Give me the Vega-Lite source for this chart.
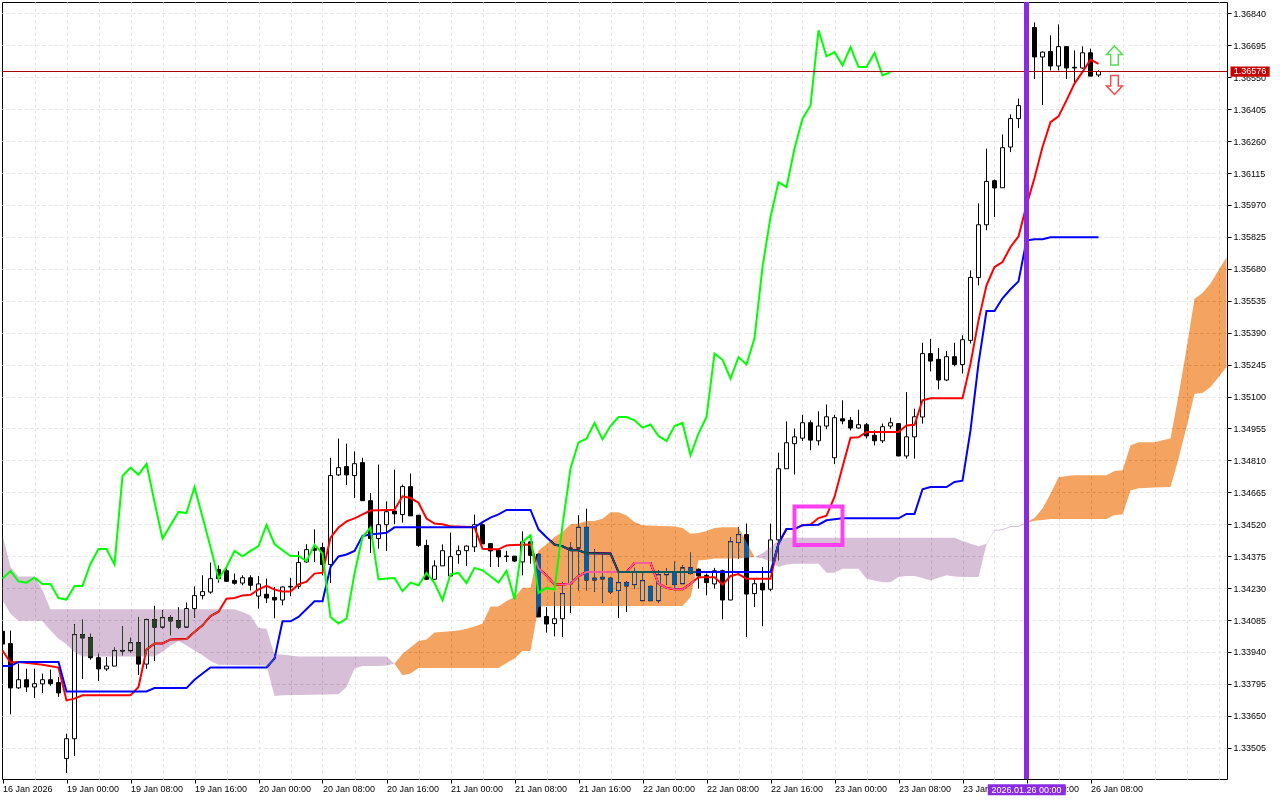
{"$schema":"https://vega.github.io/schema/vega-lite/v6.json","width":1225,"height":777,"autosize":"none","padding":{"left":2,"top":2,"right":53,"bottom":21},"background":"white","config":{"view":{"stroke":"black","strokeWidth":1},"font":"Liberation Sans"},
"datasets":{
"candles":[
{"i":0,"o":1.34034,"h":1.34038,"l":1.33976,"c":1.33976},{"i":1,"o":1.33978,"h":1.34037,"l":1.33657,"c":1.33777},{"i":2,"o":1.33777,"h":1.33887,"l":1.33772,"c":1.33814},{"i":3,"o":1.33814,"h":1.33864,"l":1.33758,"c":1.33781},{"i":4,"o":1.33781,"h":1.33864,"l":1.33731,"c":1.33796},{"i":5,"o":1.33795,"h":1.33842,"l":1.33754,"c":1.33814},{"i":6,"o":1.33814,"h":1.3386,"l":1.33787,"c":1.33796},{"i":7,"o":1.33801,"h":1.33826,"l":1.33736,"c":1.33754},{"i":8,"o":1.33456,"h":1.33569,"l":1.3339,"c":1.33546},{"i":9,"o":1.33546,"h":1.34066,"l":1.33468,"c":1.34019},
{"i":10,"o":1.34019,"h":1.34087,"l":1.33817,"c":1.34004},{"i":11,"o":1.34005,"h":1.34023,"l":1.33905,"c":1.33914},{"i":12,"o":1.33914,"h":1.33932,"l":1.33808,"c":1.33863},{"i":13,"o":1.33863,"h":1.33917,"l":1.33854,"c":1.33876},{"i":14,"o":1.33876,"h":1.3396,"l":1.33876,"c":1.33946},{"i":15,"o":1.33944,"h":1.34056,"l":1.33925,"c":1.33947},{"i":16,"o":1.33946,"h":1.34005,"l":1.33938,"c":1.33982},{"i":17,"o":1.33982,"h":1.34099,"l":1.33835,"c":1.33885},{"i":18,"o":1.33885,"h":1.34091,"l":1.33864,"c":1.34087},{"i":19,"o":1.34087,"h":1.3415,"l":1.33899,"c":1.34053},
{"i":20,"o":1.34053,"h":1.34129,"l":1.34047,"c":1.34096},{"i":21,"o":1.34096,"h":1.34106,"l":1.34016,"c":1.34081},{"i":22,"o":1.34082,"h":1.34143,"l":1.34044,"c":1.34053},{"i":23,"o":1.34053,"h":1.34165,"l":1.34053,"c":1.34137},{"i":24,"o":1.34137,"h":1.34238,"l":1.34096,"c":1.34196},{"i":25,"o":1.34196,"h":1.34288,"l":1.34179,"c":1.34214},{"i":26,"o":1.34212,"h":1.34346,"l":1.34205,"c":1.34273},{"i":27,"o":1.34315,"h":1.34333,"l":1.34255,"c":1.34273},{"i":28,"o":1.34309,"h":1.34326,"l":1.34258,"c":1.34261},{"i":29,"o":1.34265,"h":1.34296,"l":1.34246,"c":1.34252},
{"i":30,"o":1.34253,"h":1.34288,"l":1.34243,"c":1.34277},{"i":31,"o":1.34277,"h":1.34288,"l":1.3422,"c":1.34243},{"i":32,"o":1.34194,"h":1.34285,"l":1.34137,"c":1.34249},{"i":33,"o":1.34202,"h":1.34273,"l":1.34162,"c":1.34185},{"i":34,"o":1.34188,"h":1.34235,"l":1.34093,"c":1.34176},{"i":35,"o":1.34176,"h":1.34238,"l":1.34152,"c":1.34235},{"i":36,"o":1.34235,"h":1.34277,"l":1.34193,"c":1.34238},{"i":37,"o":1.34238,"h":1.34397,"l":1.34226,"c":1.34346},{"i":38,"o":1.34349,"h":1.34429,"l":1.34344,"c":1.34405},{"i":39,"o":1.34411,"h":1.34497,"l":1.34349,"c":1.34402},
{"i":40,"o":1.34414,"h":1.34436,"l":1.34288,"c":1.34337},{"i":41,"o":1.34337,"h":1.34822,"l":1.34253,"c":1.34741},{"i":42,"o":1.34744,"h":1.34909,"l":1.34739,"c":1.34777},{"i":43,"o":1.34782,"h":1.34886,"l":1.34698,"c":1.34744},{"i":44,"o":1.34741,"h":1.34851,"l":1.34639,"c":1.34795},{"i":45,"o":1.348,"h":1.34822,"l":1.34627,"c":1.34627},{"i":46,"o":1.34627,"h":1.34662,"l":1.34389,"c":1.34455},{"i":47,"o":1.34455,"h":1.34791,"l":1.34409,"c":1.34518},{"i":48,"o":1.34518,"h":1.34624,"l":1.34399,"c":1.34577},{"i":49,"o":1.3458,"h":1.34768,"l":1.3452,"c":1.34567},
{"i":50,"o":1.34564,"h":1.347,"l":1.34527,"c":1.34691},{"i":51,"o":1.34691,"h":1.3475,"l":1.34558,"c":1.34558},{"i":52,"o":1.34561,"h":1.34561,"l":1.34417,"c":1.34424},{"i":53,"o":1.34424,"h":1.3445,"l":1.34266,"c":1.3427},{"i":54,"o":1.3427,"h":1.34356,"l":1.3427,"c":1.34331},{"i":55,"o":1.34331,"h":1.34428,"l":1.34331,"c":1.344},{"i":56,"o":1.34285,"h":1.34482,"l":1.34281,"c":1.34373},{"i":57,"o":1.34382,"h":1.34424,"l":1.34341,"c":1.344},{"i":58,"o":1.344,"h":1.34424,"l":1.34331,"c":1.34421},{"i":59,"o":1.34417,"h":1.34564,"l":1.34394,"c":1.34518},
{"i":60,"o":1.34518,"h":1.34523,"l":1.34431,"c":1.34431},{"i":61,"o":1.34432,"h":1.34432,"l":1.34326,"c":1.34399},{"i":62,"o":1.34402,"h":1.34402,"l":1.34326,"c":1.34372},{"i":63,"o":1.34376,"h":1.34399,"l":1.34349,"c":1.34373},{"i":64,"o":1.34375,"h":1.34376,"l":1.34349,"c":1.34353},{"i":65,"o":1.34349,"h":1.34488,"l":1.34288,"c":1.3444},{"i":66,"o":1.3444,"h":1.3444,"l":1.34341,"c":1.34379},{"i":67,"o":1.34384,"h":1.34384,"l":1.34099,"c":1.34099},{"i":68,"o":1.34101,"h":1.34144,"l":1.34028,"c":1.34067},{"i":69,"o":1.34069,"h":1.34213,"l":1.34011,"c":1.34091},
{"i":70,"o":1.34091,"h":1.34258,"l":1.34008,"c":1.34205},{"i":71,"o":1.3425,"h":1.34437,"l":1.34117,"c":1.34412},{"i":72,"o":1.34412,"h":1.34561,"l":1.3422,"c":1.34506},{"i":73,"o":1.34506,"h":1.34591,"l":1.3422,"c":1.34267},{"i":74,"o":1.34275,"h":1.34406,"l":1.34213,"c":1.34267},{"i":75,"o":1.34279,"h":1.34387,"l":1.34163,"c":1.34272},{"i":76,"o":1.34275,"h":1.34281,"l":1.34205,"c":1.34213},{"i":77,"o":1.34219,"h":1.34303,"l":1.34094,"c":1.34255},{"i":78,"o":1.34255,"h":1.34261,"l":1.34122,"c":1.3424},{"i":79,"o":1.34246,"h":1.34322,"l":1.34226,"c":1.34303},
{"i":80,"o":1.34173,"h":1.34303,"l":1.34173,"c":1.34264},{"i":81,"o":1.34238,"h":1.3424,"l":1.34173,"c":1.34173},{"i":82,"o":1.34173,"h":1.34311,"l":1.34163,"c":1.34291},{"i":83,"o":1.34291,"h":1.34319,"l":1.34246,"c":1.34305},{"i":84,"o":1.34303,"h":1.3435,"l":1.34228,"c":1.34247},{"i":85,"o":1.3425,"h":1.34334,"l":1.3425,"c":1.34322},{"i":86,"o":1.34322,"h":1.34391,"l":1.34293,"c":1.34297},{"i":87,"o":1.34316,"h":1.34319,"l":1.34228,"c":1.34285},{"i":88,"o":1.34288,"h":1.34296,"l":1.34197,"c":1.34255},{"i":89,"o":1.34249,"h":1.34322,"l":1.34228,"c":1.34309},
{"i":90,"o":1.34309,"h":1.34314,"l":1.34088,"c":1.34176},{"i":91,"o":1.34176,"h":1.34462,"l":1.34175,"c":1.34441},{"i":92,"o":1.34437,"h":1.34508,"l":1.34364,"c":1.34473},{"i":93,"o":1.34473,"h":1.34523,"l":1.34008,"c":1.34203},{"i":94,"o":1.34205,"h":1.34273,"l":1.34144,"c":1.3425},{"i":95,"o":1.34252,"h":1.34326,"l":1.34057,"c":1.34222},{"i":96,"o":1.34225,"h":1.34523,"l":1.34216,"c":1.34449},{"i":97,"o":1.34449,"h":1.34845,"l":1.34356,"c":1.34772},{"i":98,"o":1.34772,"h":1.34987,"l":1.34772,"c":1.3489},{"i":99,"o":1.34886,"h":1.34954,"l":1.34746,"c":1.34917},
{"i":100,"o":1.34911,"h":1.35017,"l":1.34898,"c":1.34981},{"i":101,"o":1.34981,"h":1.34992,"l":1.34856,"c":1.34902},{"i":102,"o":1.34899,"h":1.35033,"l":1.34878,"c":1.34966},{"i":103,"o":1.34966,"h":1.35064,"l":1.34952,"c":1.35008},{"i":104,"o":1.34822,"h":1.35017,"l":1.34793,"c":1.35004},{"i":105,"o":1.34999,"h":1.35083,"l":1.34974,"c":1.34989},{"i":106,"o":1.34992,"h":1.35007,"l":1.34946,"c":1.34957},{"i":107,"o":1.34957,"h":1.3504,"l":1.34954,"c":1.34972},{"i":108,"o":1.34972,"h":1.3498,"l":1.34909,"c":1.34921},{"i":109,"o":1.34924,"h":1.34946,"l":1.34878,"c":1.34899},
{"i":110,"o":1.34899,"h":1.34977,"l":1.34889,"c":1.34963},{"i":111,"o":1.34966,"h":1.35004,"l":1.34954,"c":1.34981},{"i":112,"o":1.34977,"h":1.34977,"l":1.34829,"c":1.3483},{"i":113,"o":1.3483,"h":1.3512,"l":1.34818,"c":1.34917},{"i":114,"o":1.34917,"h":1.35045,"l":1.34818,"c":1.35008},{"i":115,"o":1.35007,"h":1.35344,"l":1.34977,"c":1.35295},{"i":116,"o":1.35295,"h":1.35362,"l":1.35214,"c":1.35261},{"i":117,"o":1.35269,"h":1.3532,"l":1.35133,"c":1.35175},{"i":118,"o":1.35175,"h":1.35307,"l":1.3517,"c":1.35281},{"i":119,"o":1.35281,"h":1.35344,"l":1.35237,"c":1.35245},
{"i":120,"o":1.35245,"h":1.35378,"l":1.35204,"c":1.35358},{"i":121,"o":1.35355,"h":1.35673,"l":1.35341,"c":1.35641},{"i":122,"o":1.3564,"h":1.35977,"l":1.35605,"c":1.3588},{"i":123,"o":1.3588,"h":1.36226,"l":1.35855,"c":1.36077},{"i":124,"o":1.3608,"h":1.36085,"l":1.35915,"c":1.36047},{"i":125,"o":1.36048,"h":1.3629,"l":1.36048,"c":1.3623},{"i":126,"o":1.36233,"h":1.36381,"l":1.3621,"c":1.36362},{"i":127,"o":1.36362,"h":1.36453,"l":1.36319,"c":1.36421},{"i":128,"o":1.36421,"h":1.3679,"l":1.364,"c":1.36776},{"i":129,"o":1.36776,"h":1.36799,"l":1.36542,"c":1.36642},
{"i":130,"o":1.36642,"h":1.36667,"l":1.36424,"c":1.36664},{"i":131,"o":1.36667,"h":1.3674,"l":1.36581,"c":1.36601},{"i":132,"o":1.36601,"h":1.3679,"l":1.36581,"c":1.36689},{"i":133,"o":1.36689,"h":1.3669,"l":1.36542,"c":1.36592},{"i":134,"o":1.36595,"h":1.36672,"l":1.36521,"c":1.36592},{"i":135,"o":1.36592,"h":1.3669,"l":1.36589,"c":1.36661},{"i":136,"o":1.36661,"h":1.3668,"l":1.36555,"c":1.36555},{"i":137,"o":1.3656,"h":1.36581,"l":1.36551,"c":1.36576}],
"tenkan":[{"i":0,"p":1.33947},{"i":1,"p":1.33892},{"i":2,"p":1.33895},{"i":4,"p":1.33887},{"i":5,"p":1.33882},{"i":7,"p":1.33869},{"i":8,"p":1.3372},{"i":9,"p":1.33728},{"i":10,"p":1.33743},{"i":16,"p":1.33743},{"i":17,"p":1.33781},{"i":18,"p":1.33951},{"i":19,"p":1.33978},{"i":20,"p":1.33979},{"i":21,"p":1.33997},{"i":23,"p":1.33999},{"i":24,"p":1.34031},{"i":25,"p":1.34061},{"i":26,"p":1.34103},{"i":27,"p":1.34123},{"i":28,"p":1.34182},{"i":29,"p":1.34185},{"i":30,"p":1.34197},{"i":31,"p":1.342},{"i":32,"p":1.34224},{"i":33,"p":1.3424},{"i":34,"p":1.34223},{"i":35,"p":1.34215},{"i":36,"p":1.34215},{"i":37,"p":1.34247},{"i":38,"p":1.34259},{"i":39,"p":1.34296},{"i":40,"p":1.343},{"i":41,"p":1.34459},{"i":42,"p":1.34505},{"i":43,"p":1.34533},{"i":44,"p":1.34547},{"i":45,"p":1.34565},{"i":46,"p":1.34582},{"i":49,"p":1.34586},{"i":50,"p":1.34647},{"i":51,"p":1.34639},{"i":52,"p":1.34618},{"i":53,"p":1.34546},{"i":54,"p":1.34523},{"i":55,"p":1.3452},{"i":56,"p":1.34511},{"i":59,"p":1.34506},{"i":60,"p":1.34409},{"i":61,"p":1.34406},{"i":62,"p":1.34406},{"i":63,"p":1.34424},{"i":64,"p":1.34426},{"i":66,"p":1.34428},{"i":67,"p":1.34319},{"i":68,"p":1.34288},{"i":69,"p":1.34247},{"i":70,"p":1.34247},{"i":71,"p":1.3425},{"i":72,"p":1.34285},{"i":73,"p":1.34303},{"i":78,"p":1.34303},{"i":79,"p":1.34344},{"i":81,"p":1.34344},{"i":82,"p":1.3425},{"i":83,"p":1.34231},{"i":84,"p":1.34225},{"i":85,"p":1.34225},{"i":86,"p":1.3425},{"i":87,"p":1.34279},{"i":89,"p":1.34279},{"i":90,"p":1.34246},{"i":91,"p":1.34285},{"i":92,"p":1.34294},{"i":93,"p":1.34272},{"i":96,"p":1.34272},{"i":97,"p":1.34432},{"i":98,"p":1.34498},{"i":99,"p":1.34498},{"i":100,"p":1.34516},{"i":101,"p":1.34519},{"i":102,"p":1.34548},{"i":103,"p":1.34559},{"i":104,"p":1.34644},{"i":105,"p":1.3478},{"i":106,"p":1.34913},{"i":107,"p":1.34915},{"i":108,"p":1.34939},{"i":112,"p":1.34939},{"i":113,"p":1.34969},{"i":114,"p":1.34972},{"i":115,"p":1.35083},{"i":116,"p":1.35092},{"i":120,"p":1.35092},{"i":121,"p":1.35249},{"i":122,"p":1.35446},{"i":123,"p":1.35605},{"i":124,"p":1.35688},{"i":125,"p":1.35711},{"i":126,"p":1.35779},{"i":127,"p":1.35827},{"i":128,"p":1.35968},{"i":129,"p":1.36092},{"i":130,"p":1.36233},{"i":131,"p":1.36346},{"i":132,"p":1.36372},{"i":133,"p":1.36445},{"i":134,"p":1.36521},{"i":135,"p":1.36574},{"i":136,"p":1.3663},{"i":137,"p":1.36611}],
"kijun":[{"i":0,"p":1.33876},{"i":1,"p":1.33876},{"i":2,"p":1.33895},{"i":7,"p":1.33895},{"i":8,"p":1.33761},{"i":18,"p":1.33761},{"i":19,"p":1.33776},{"i":23,"p":1.33776},{"i":24,"p":1.33814},{"i":25,"p":1.33842},{"i":26,"p":1.3387},{"i":33,"p":1.3387},{"i":34,"p":1.3391},{"i":35,"p":1.34079},{"i":36,"p":1.34079},{"i":37,"p":1.34099},{"i":39,"p":1.3417},{"i":40,"p":1.3417},{"i":41,"p":1.34326},{"i":42,"p":1.34374},{"i":43,"p":1.34383},{"i":44,"p":1.34399},{"i":45,"p":1.34467},{"i":46,"p":1.34473},{"i":48,"p":1.34481},{"i":49,"p":1.34506},{"i":59,"p":1.34506},{"i":60,"p":1.3453},{"i":61,"p":1.3455},{"i":62,"p":1.34565},{"i":63,"p":1.34585},{"i":66,"p":1.34585},{"i":67,"p":1.34497},{"i":68,"p":1.34461},{"i":69,"p":1.34428},{"i":70,"p":1.3442},{"i":71,"p":1.34402},{"i":72,"p":1.34402},{"i":73,"p":1.34388},{"i":76,"p":1.34387},{"i":77,"p":1.34303},{"i":96,"p":1.34303},{"i":97,"p":1.34432},{"i":98,"p":1.34498},{"i":99,"p":1.34498},{"i":100,"p":1.34516},{"i":102,"p":1.34518},{"i":103,"p":1.34538},{"i":105,"p":1.34547},{"i":112,"p":1.34547},{"i":113,"p":1.34567},{"i":114,"p":1.34567},{"i":115,"p":1.34679},{"i":116,"p":1.34689},{"i":118,"p":1.34689},{"i":119,"p":1.34712},{"i":120,"p":1.34718},{"i":121,"p":1.34946},{"i":122,"p":1.35251},{"i":123,"p":1.35488},{"i":124,"p":1.35488},{"i":125,"p":1.35546},{"i":126,"p":1.35587},{"i":127,"p":1.35623},{"i":128,"p":1.35809},{"i":129,"p":1.35814},{"i":130,"p":1.35814},{"i":131,"p":1.35823},{"i":137,"p":1.35823}],
"chikou":[{"i":0,"p":1.34273},{"i":1,"p":1.34308},{"i":2,"p":1.34261},{"i":3,"p":1.34255},{"i":4,"p":1.34277},{"i":5,"p":1.34249},{"i":6,"p":1.34249},{"i":7,"p":1.34185},{"i":8,"p":1.34178},{"i":9,"p":1.3424},{"i":10,"p":1.3424},{"i":11,"p":1.34341},{"i":12,"p":1.34408},{"i":13,"p":1.34408},{"i":14,"p":1.34337},{"i":15,"p":1.34739},{"i":16,"p":1.34777},{"i":17,"p":1.34745},{"i":18,"p":1.34794},{"i":19,"p":1.34621},{"i":20,"p":1.34455},{"i":21,"p":1.34515},{"i":22,"p":1.34576},{"i":23,"p":1.34571},{"i":24,"p":1.34689},{"i":25,"p":1.34553},{"i":26,"p":1.34417},{"i":27,"p":1.34273},{"i":28,"p":1.34326},{"i":29,"p":1.34399},{"i":30,"p":1.34374},{"i":31,"p":1.34399},{"i":32,"p":1.34421},{"i":33,"p":1.34517},{"i":34,"p":1.3443},{"i":35,"p":1.34402},{"i":36,"p":1.34376},{"i":37,"p":1.34376},{"i":38,"p":1.34353},{"i":39,"p":1.34427},{"i":40,"p":1.34387},{"i":41,"p":1.34099},{"i":42,"p":1.34069},{"i":43,"p":1.34091},{"i":44,"p":1.34296},{"i":45,"p":1.34462},{"i":46,"p":1.34505},{"i":47,"p":1.3427},{"i":48,"p":1.34274},{"i":49,"p":1.34276},{"i":50,"p":1.34216},{"i":51,"p":1.34255},{"i":52,"p":1.34243},{"i":53,"p":1.34299},{"i":54,"p":1.34253},{"i":55,"p":1.34175},{"i":56,"p":1.34293},{"i":57,"p":1.34299},{"i":58,"p":1.34253},{"i":59,"p":1.34322},{"i":60,"p":1.34311},{"i":61,"p":1.34284},{"i":62,"p":1.34255},{"i":63,"p":1.34308},{"i":64,"p":1.34179},{"i":65,"p":1.3444},{"i":66,"p":1.3447},{"i":67,"p":1.34208},{"i":68,"p":1.34231},{"i":69,"p":1.34223},{"i":70,"p":1.34515},{"i":71,"p":1.34773},{"i":72,"p":1.34891},{"i":73,"p":1.34909},{"i":74,"p":1.3498},{"i":75,"p":1.34906},{"i":76,"p":1.34966},{"i":77,"p":1.35007},{"i":78,"p":1.35007},{"i":79,"p":1.34992},{"i":80,"p":1.34959},{"i":81,"p":1.34973},{"i":82,"p":1.34921},{"i":83,"p":1.34898},{"i":84,"p":1.34966},{"i":85,"p":1.3498},{"i":86,"p":1.34833},{"i":87,"p":1.34932},{"i":88,"p":1.35007},{"i":89,"p":1.35295},{"i":90,"p":1.35267},{"i":91,"p":1.35182},{"i":92,"p":1.35279},{"i":93,"p":1.35246},{"i":94,"p":1.35364},{"i":95,"p":1.35688},{"i":96,"p":1.35915},{"i":97,"p":1.36074},{"i":98,"p":1.36051},{"i":99,"p":1.36226},{"i":100,"p":1.36362},{"i":101,"p":1.36422},{"i":102,"p":1.36763},{"i":103,"p":1.36645},{"i":104,"p":1.36664},{"i":105,"p":1.36604},{"i":106,"p":1.36687},{"i":107,"p":1.36596},{"i":108,"p":1.36596},{"i":109,"p":1.3666},{"i":110,"p":1.36558},{"i":111,"p":1.36573}],
"kumo":[
{"seg":1,"kind":"below","i":0,"u":1.3447,"l":1.34174},{"seg":1,"kind":"below","i":1,"u":1.34326,"l":1.34114},{"seg":1,"kind":"below","i":2,"u":1.34283,"l":1.34082},{"seg":1,"kind":"below","i":4,"u":1.34283,"l":1.34082},{"seg":1,"kind":"below","i":5,"u":1.3422,"l":1.34079},{"seg":1,"kind":"below","i":6,"u":1.34134,"l":1.34038},{"seg":1,"kind":"below","i":7,"u":1.34134,"l":1.34},{"seg":1,"kind":"below","i":8,"u":1.34134,"l":1.33975},{"seg":1,"kind":"below","i":9,"u":1.34134,"l":1.3394},{"seg":1,"kind":"below","i":10,"u":1.34134,"l":1.3392},{"seg":1,"kind":"below","i":19,"u":1.34134,"l":1.3392},{"seg":1,"kind":"below","i":20,"u":1.34134,"l":1.3394},{"seg":1,"kind":"below","i":21,"u":1.34134,"l":1.3397},{"seg":1,"kind":"below","i":22,"u":1.34134,"l":1.3399},{"seg":1,"kind":"below","i":23,"u":1.34134,"l":1.3397},{"seg":1,"kind":"below","i":24,"u":1.34134,"l":1.33947},{"seg":1,"kind":"below","i":25,"u":1.34134,"l":1.33925},{"seg":1,"kind":"below","i":26,"u":1.34134,"l":1.33899},{"seg":1,"kind":"below","i":27,"u":1.34134,"l":1.33882},{"seg":1,"kind":"below","i":29,"u":1.34134,"l":1.33881},{"seg":1,"kind":"below","i":30,"u":1.34121,"l":1.3388},{"seg":1,"kind":"below","i":31,"u":1.34106,"l":1.3388},{"seg":1,"kind":"below","i":32,"u":1.34049,"l":1.3388},{"seg":1,"kind":"below","i":33,"u":1.34046,"l":1.33879},{"seg":1,"kind":"below","i":34,"u":1.33929,"l":1.3374},{"seg":1,"kind":"below","i":35,"u":1.33928,"l":1.33743},{"seg":1,"kind":"below","i":37,"u":1.3392,"l":1.33745},{"seg":1,"kind":"below","i":42,"u":1.3392,"l":1.33748},{"seg":1,"kind":"below","i":43,"u":1.3392,"l":1.33781},{"seg":1,"kind":"below","i":44,"u":1.3392,"l":1.33864},{"seg":1,"kind":"below","i":45,"u":1.3392,"l":1.33876},{"seg":1,"kind":"below","i":47,"u":1.3392,"l":1.33876},{"seg":1,"kind":"below","i":48,"u":1.3392,"l":1.33879},{"seg":1,"kind":"below","i":49,"u":1.33887,"l":1.33887},
{"seg":2,"kind":"above","i":49,"u":1.33887,"l":1.33887},{"seg":2,"kind":"above","i":50,"u":1.33932,"l":1.33834},{"seg":2,"kind":"above","i":51,"u":1.3396,"l":1.33842},{"seg":2,"kind":"above","i":52,"u":1.3399,"l":1.33867},{"seg":2,"kind":"above","i":53,"u":1.33997,"l":1.33867},{"seg":2,"kind":"above","i":54,"u":1.34029,"l":1.33867},{"seg":2,"kind":"above","i":56,"u":1.34034,"l":1.33867},{"seg":2,"kind":"above","i":57,"u":1.34038,"l":1.33867},{"seg":2,"kind":"above","i":58,"u":1.34046,"l":1.33867},{"seg":2,"kind":"above","i":59,"u":1.34056,"l":1.33867},{"seg":2,"kind":"above","i":60,"u":1.34069,"l":1.33867},{"seg":2,"kind":"above","i":61,"u":1.34147,"l":1.33867},{"seg":2,"kind":"above","i":62,"u":1.34147,"l":1.33867},{"seg":2,"kind":"above","i":63,"u":1.34171,"l":1.3389},{"seg":2,"kind":"above","i":64,"u":1.34189,"l":1.3391},{"seg":2,"kind":"above","i":65,"u":1.34232,"l":1.33944},{"seg":2,"kind":"above","i":66,"u":1.34232,"l":1.33944},{"seg":2,"kind":"above","i":67,"u":1.34401,"l":1.34145},{"seg":2,"kind":"above","i":68,"u":1.34429,"l":1.34149},{"seg":2,"kind":"above","i":69,"u":1.34462,"l":1.34149},{"seg":2,"kind":"above","i":70,"u":1.34485,"l":1.34149},{"seg":2,"kind":"above","i":71,"u":1.3452,"l":1.34149},{"seg":2,"kind":"above","i":72,"u":1.34523,"l":1.34149},{"seg":2,"kind":"above","i":73,"u":1.34535,"l":1.34149},{"seg":2,"kind":"above","i":74,"u":1.34535,"l":1.34149},{"seg":2,"kind":"above","i":75,"u":1.34545,"l":1.34149},{"seg":2,"kind":"above","i":76,"u":1.34575,"l":1.34149},{"seg":2,"kind":"above","i":77,"u":1.34575,"l":1.34149},{"seg":2,"kind":"above","i":78,"u":1.3456,"l":1.34149},{"seg":2,"kind":"above","i":79,"u":1.3453,"l":1.34149},{"seg":2,"kind":"above","i":80,"u":1.34515,"l":1.34149},{"seg":2,"kind":"above","i":84,"u":1.3451,"l":1.34149},{"seg":2,"kind":"above","i":85,"u":1.34503,"l":1.34149},{"seg":2,"kind":"above","i":86,"u":1.34477,"l":1.34189},{"seg":2,"kind":"above","i":87,"u":1.3448,"l":1.34356},{"seg":2,"kind":"above","i":88,"u":1.34489,"l":1.34359},{"seg":2,"kind":"above","i":89,"u":1.34503,"l":1.34364},{"seg":2,"kind":"above","i":90,"u":1.34506,"l":1.34364},{"seg":2,"kind":"above","i":92,"u":1.34506,"l":1.34364},{"seg":2,"kind":"above","i":93,"u":1.34439,"l":1.34368},{"seg":2,"kind":"above","i":94,"u":1.34371,"l":1.34371},
{"seg":3,"kind":"below","i":94,"u":1.34371,"l":1.34371},{"seg":3,"kind":"below","i":95,"u":1.34388,"l":1.34365},{"seg":3,"kind":"below","i":96,"u":1.34416,"l":1.34352},{"seg":3,"kind":"below","i":97,"u":1.34447,"l":1.34326},{"seg":3,"kind":"below","i":98,"u":1.34459,"l":1.34337},{"seg":3,"kind":"below","i":99,"u":1.34459,"l":1.34341},{"seg":3,"kind":"below","i":102,"u":1.34459,"l":1.34341},{"seg":3,"kind":"below","i":103,"u":1.34459,"l":1.343},{"seg":3,"kind":"below","i":104,"u":1.34459,"l":1.343},{"seg":3,"kind":"below","i":105,"u":1.34459,"l":1.34318},{"seg":3,"kind":"below","i":107,"u":1.34459,"l":1.34318},{"seg":3,"kind":"below","i":108,"u":1.34459,"l":1.34273},{"seg":3,"kind":"below","i":109,"u":1.34459,"l":1.34265},{"seg":3,"kind":"below","i":110,"u":1.34459,"l":1.34257},{"seg":3,"kind":"below","i":111,"u":1.34459,"l":1.34257},{"seg":3,"kind":"below","i":112,"u":1.34459,"l":1.3428},{"seg":3,"kind":"below","i":113,"u":1.34459,"l":1.34285},{"seg":3,"kind":"below","i":114,"u":1.34459,"l":1.34285},{"seg":3,"kind":"below","i":115,"u":1.34459,"l":1.34276},{"seg":3,"kind":"below","i":116,"u":1.34459,"l":1.34265},{"seg":3,"kind":"below","i":117,"u":1.34459,"l":1.34277},{"seg":3,"kind":"below","i":118,"u":1.34459,"l":1.34288},{"seg":3,"kind":"below","i":119,"u":1.34459,"l":1.34283},{"seg":3,"kind":"below","i":120,"u":1.34444,"l":1.3428},{"seg":3,"kind":"below","i":121,"u":1.34432,"l":1.3428},{"seg":3,"kind":"below","i":122,"u":1.3442,"l":1.3428},{"seg":3,"kind":"below","i":123,"u":1.34432,"l":1.34428},{"seg":3,"kind":"below","i":124,"u":1.34495,"l":1.34491},{"seg":3,"kind":"below","i":125,"u":1.34497,"l":1.34493},{"seg":3,"kind":"below","i":126,"u":1.34512,"l":1.34508},{"seg":3,"kind":"below","i":127,"u":1.34512,"l":1.34508},{"seg":3,"kind":"below","i":128,"u":1.3453,"l":1.34527},
{"seg":4,"kind":"above","i":128,"u":1.3453,"l":1.34527},{"seg":4,"kind":"above","i":129,"u":1.34548,"l":1.34536},{"seg":4,"kind":"above","i":130,"u":1.34591,"l":1.34539},{"seg":4,"kind":"above","i":131,"u":1.34659,"l":1.34544},{"seg":4,"kind":"above","i":132,"u":1.34733,"l":1.34544},{"seg":4,"kind":"above","i":133,"u":1.34739,"l":1.34544},{"seg":4,"kind":"above","i":134,"u":1.34742,"l":1.34544},{"seg":4,"kind":"above","i":138,"u":1.34742,"l":1.34544},{"seg":4,"kind":"above","i":139,"u":1.34762,"l":1.34562},{"seg":4,"kind":"above","i":140,"u":1.34765,"l":1.34564},{"seg":4,"kind":"above","i":141,"u":1.34878,"l":1.34673},{"seg":4,"kind":"above","i":142,"u":1.34892,"l":1.34684},{"seg":4,"kind":"above","i":144,"u":1.34892,"l":1.34687},{"seg":4,"kind":"above","i":145,"u":1.34902,"l":1.34688},{"seg":4,"kind":"above","i":146,"u":1.34909,"l":1.34689},{"seg":4,"kind":"above","i":147,"u":1.35105,"l":1.34818},{"seg":4,"kind":"above","i":148,"u":1.35317,"l":1.34961},{"seg":4,"kind":"above","i":149,"u":1.35544,"l":1.35113},{"seg":4,"kind":"above","i":150,"u":1.3557,"l":1.35116},{"seg":4,"kind":"above","i":151,"u":1.35613,"l":1.35143},{"seg":4,"kind":"above","i":152,"u":1.35673,"l":1.35188},{"seg":4,"kind":"above","i":153,"u":1.35733,"l":1.35234}]},
"encoding":{"x":{"type":"quantitative","title":null,"scale":{"domain":[-0.0625,153.0625],"nice":false,"zero":false,"padding":0},"axis":{"orient":"bottom","values":[0,4,8,12,16,20,24,28,32,36,40,44,48,52,56,60,64,68,72,76,80,84,88,92,96,100,104,108,112,116,120,124,128,132,136,140,144,148,152],"labelExpr":"datum.value%8==0 ? (['16 Jan 2026','19 Jan 00:00','19 Jan 08:00','19 Jan 16:00','20 Jan 00:00','20 Jan 08:00','20 Jan 16:00','21 Jan 00:00','21 Jan 08:00','21 Jan 16:00','22 Jan 00:00','22 Jan 08:00','22 Jan 16:00','23 Jan 00:00','23 Jan 08:00','23 Jan 16:00','26 Jan 00:00','26 Jan 08:00'][datum.value/8]||'') : ''","labelOverlap":false,"labelAlign":"left","labelFlush":false,"labelFontSize":9,"labelColor":"black","labelPadding":1,"labelAngle":0,"domain":false,"tickColor":"black","tickSize":{"condition":{"test":"datum.value%8==0 && datum.value<=136","value":4},"value":0},"grid":true,"gridColor":"#e4e4e4","gridDash":[3,3],"gridWidth":1,"gridOpacity":{"condition":{"test":"datum.value==0","value":0},"value":1}}},
"y":{"type":"quantitative","title":null,"scale":{"domain":[1.333632,1.368916],"nice":false,"zero":false},"axis":{"orient":"right","values":[1.33505,1.3365,1.33795,1.3394,1.34085,1.3423,1.34375,1.3452,1.34665,1.3481,1.34955,1.351,1.35245,1.3539,1.35535,1.3568,1.35825,1.3597,1.36115,1.3626,1.36405,1.3655,1.36695,1.3684],"format":".5f","labelFontSize":9,"labelColor":"black","labelPadding":2,"labelOverlap":false,"labelFlush":false,"domain":false,"tickColor":"black","tickSize":4,"grid":true,"gridColor":"#e4e4e4","gridDash":[3,3],"gridWidth":1}}},
"layer":[
{"data":{"name":"candles"},"mark":{"type":"rule","color":"black","strokeWidth":1,"clip":true},"encoding":{"x":{"field":"i"},"y":{"field":"l"},"y2":{"field":"h"}}},
{"data":{"name":"candles"},"mark":{"type":"bar","size":4,"stroke":"black","strokeWidth":1,"clip":true},"encoding":{"x":{"field":"i"},"y":{"field":"o"},"y2":{"field":"c"},"color":{"condition":{"test":"datum.c>=datum.o","value":"white"},"value":"black"}}},
{"data":{"name":"tenkan"},"mark":{"type":"line","color":"#ff0000","strokeWidth":2},"encoding":{"x":{"field":"i"},"y":{"field":"p"}}},
{"data":{"name":"kijun"},"mark":{"type":"line","color":"#0000ff","strokeWidth":2},"encoding":{"x":{"field":"i"},"y":{"field":"p"}}},
{"data":{"name":"kumo"},"mark":{"type":"area","blend":"difference"},"encoding":{"x":{"field":"i"},"y":{"field":"u"},"y2":{"field":"l"},"detail":{"field":"seg"},"color":{"field":"kind","type":"nominal","legend":null,"scale":{"domain":["above","below"],"range":["#0b5b9f","#274027"]}}}},
{"data":{"name":"chikou"},"mark":{"type":"line","color":"#00ff00","strokeWidth":2},"encoding":{"x":{"field":"i"},"y":{"field":"p"}}},
{"data":{"values":[{"price":1.36576}]},"mark":{"type":"rule","color":"#a80000","strokeWidth":1},"encoding":{"x":{"datum":-0.0625},"x2":{"datum":153.0625},"y":{"field":"price"}}},
{"data":{"values":[{"i":99,"i2":105,"top":1.34601,"bottom":1.34426}]},"mark":{"type":"rect","filled":false,"stroke":"#ff40f0","strokeWidth":4},"encoding":{"x":{"field":"i"},"x2":{"field":"i2"},"y":{"field":"top"},"y2":{"field":"bottom"}}},
{"data":{"values":[{"i":128}]},"mark":{"type":"rule","color":"#8a2be2","strokeWidth":5},"encoding":{"x":{"field":"i"},"y":{"datum":1.368916},"y2":{"datum":1.333632}}},
{"data":{"values":[{"i":139,"price":1.36649}]},"mark":{"type":"point","shape":"M0,-1L0.84,-0.1L0.4,-0.1L0.4,1L-0.4,1L-0.4,-0.1L-0.84,-0.1Z","size":361,"filled":true,"fill":"white","stroke":"#55dd55","strokeWidth":1.5,"opacity":1},"encoding":{"x":{"field":"i"},"y":{"field":"price"}}},
{"data":{"values":[{"i":139,"price":1.36515}]},"mark":{"type":"point","shape":"M0,1L0.84,0.1L0.4,0.1L0.4,-1L-0.4,-1L-0.4,0.1L-0.84,0.1Z","size":361,"filled":true,"fill":"white","stroke":"#f04f4f","strokeWidth":1.5,"opacity":1},"encoding":{"x":{"field":"i"},"y":{"field":"price"}}},
{"data":{"values":[{"price":1.36576}]},"mark":{"type":"rect","color":"#c80000"},"encoding":{"x":{"datum":153.5},"x2":{"datum":158.4},"y":{"datum":1.36599},"y2":{"datum":1.36552}}},
{"data":{"values":[{"price":1.36576}]},"mark":{"type":"text","align":"left","baseline":"middle","color":"white","fontSize":9},"encoding":{"x":{"datum":153.9},"y":{"field":"price"},"text":{"field":"price","format":".5f"}}},
{"data":{"values":[{"when":"2026.01.26 00:00"}]},"mark":{"type":"rect","color":"#8a2be2"},"encoding":{"x":{"datum":123.16},"x2":{"datum":132.9},"y":{"datum":1.33339},"y2":{"datum":1.33289}}},
{"data":{"values":[{"when":"2026.01.26 00:00"}]},"mark":{"type":"text","align":"center","baseline":"middle","color":"white","fontSize":9},"encoding":{"x":{"datum":128},"y":{"datum":1.33314},"text":{"field":"when"}}}
]}
